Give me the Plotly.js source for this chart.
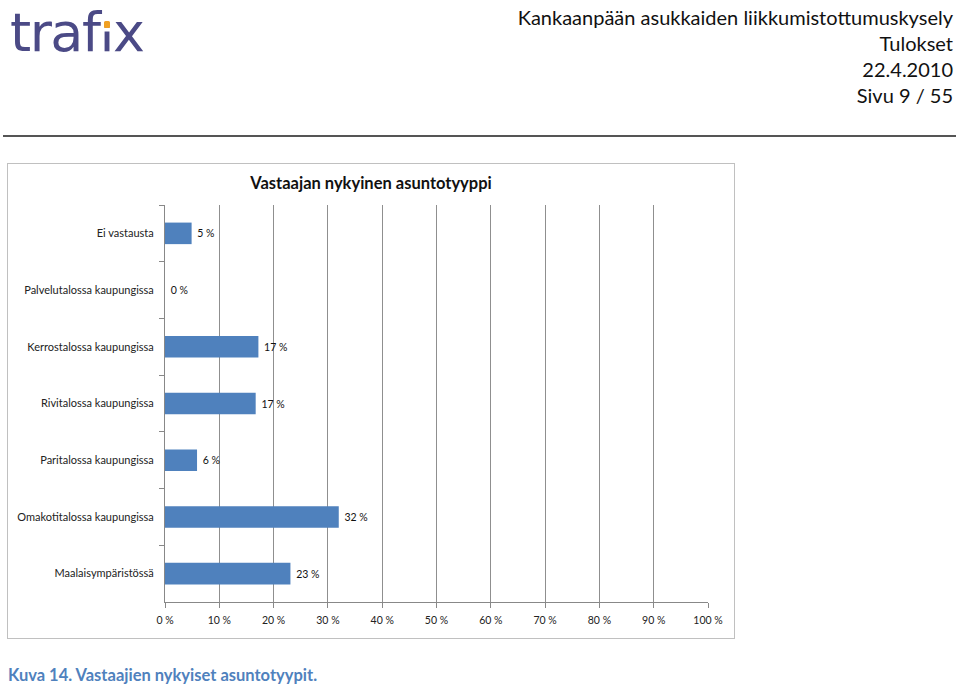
<!DOCTYPE html>
<html>
<head>
<meta charset="utf-8">
<script src="https://cdn.plot.ly/plotly-3.0.1.min.js"></script>
<style>
  html, body { margin: 0; padding: 0; background: #fff; width: 959px; height: 688px; overflow: hidden; }
  #logo { position: absolute; left: 0px; top: 0px; width: 170px; height: 75px; }
  #hdr { position: absolute; right: 6px; top: 4px; text-align: right; font-family: "Lato", sans-serif; font-size: 20px; line-height: 26px; color: #111; }
  #rule { position: absolute; left: 3px; top: 135px; width: 953px; height: 2px; background: #555; }
  #chart { position: absolute; left: 7px; top: 163px; width: 726px; height: 474px; border: 1px solid #c0c0c0; }
  #cap { position: absolute; left: 8px; top: 665px; font-family: "Lato", sans-serif; font-weight: bold; font-size: 16.5px; color: #4f81bd; }
</style>
</head>
<body>
<svg id="logo" xmlns="http://www.w3.org/2000/svg">
  <text id="logotext" x="10" y="51" font-family="DejaVu Sans, sans-serif" font-size="54" fill="#4b4a86" letter-spacing="-1.5">trafıx</text>
  <rect id="igap" x="0" y="28" width="8" height="3.5" fill="#ffffff"></rect>
  <rect id="idot" x="0" y="21" width="6" height="7" rx="1.5" fill="#f0a023"></rect>
</svg>
<div id="hdr">Kankaanpään asukkaiden liikkumistottumuskysely<br>Tulokset<br>22.4.2010<br>Sivu 9 / 55</div>
<div id="rule"></div>
<div id="chart"></div>
<div id="cap">Kuva 14. Vastaajien nykyiset asuntotyypit.</div>
<script>
// Data (top to bottom as drawn)
const categories = [
  "Ei vastausta",
  "Palvelutalossa kaupungissa",
  "Kerrostalossa kaupungissa",
  "Rivitalossa kaupungissa",
  "Paritalossa kaupungissa",
  "Omakotitalossa kaupungissa",
  "Maalaisympäristössä"
];
const shares = [4.9, 0, 17.2, 16.7, 5.9, 32.0, 23.1];
const shareLabels = ["5 %", "0 %", "17 %", "17 %", "6 %", "32 %", "23 %"];
const xTickVals = [0, 10, 20, 30, 40, 50, 60, 70, 80, 90, 100];
const xTickText = ["0 %", "10 %", "20 %", "30 %", "40 %", "50 %", "60 %", "70 %", "80 %", "90 %", "100 %"];
const chartTitle = "Vastaajan nykyinen asuntotyyppi";

// place orange accent on the logo's "i"
(function () {
  const t = document.getElementById("logotext");
  const r = document.getElementById("idot");
  const g = document.getElementById("igap");
  let cx = 112;
  try {
    const ext = t.getExtentOfChar(4);
    cx = ext.x + (ext.width + 1.5) / 2;
  } catch (e) {}
  r.setAttribute("x", (cx - 3).toFixed(1));
  g.setAttribute("x", (cx - 4).toFixed(1));
})();

const font = "Lato, sans-serif";

const trace = {
  type: "bar",
  orientation: "h",
  y: categories,
  x: shares,
  text: shareLabels.map(s => " " + s),
  textposition: "outside",
  cliponaxis: false,
  textfont: { family: font, size: 10.5, color: "#111" },
  marker: { color: "#4f81bd", line: { width: 0 } },
  hoverinfo: "none"
};

const layout = {
  width: 726,
  height: 474,
  margin: { l: 157, r: 26, t: 41, b: 36, pad: 0 },
  paper_bgcolor: "#fff",
  plot_bgcolor: "#fff",
  showlegend: false,
  bargap: 0.62,
  font: { family: font, size: 11, color: "#222" },
  title: {
    text: "<b>" + chartTitle + "</b>",
    x: 0.5, xref: "container", xanchor: "center",
    y: 0.96, yref: "container", yanchor: "middle",
    font: { family: font, size: 16.5, color: "#111" }
  },
  xaxis: {
    range: [0, 100],
    tickvals: xTickVals,
    ticktext: xTickText,
    ticks: "outside",
    ticklen: 5,
    tickcolor: "#888",
    showgrid: true,
    gridcolor: "#8f8f8f",
    gridwidth: 1,
    showline: true,
    linecolor: "#888",
    zeroline: false,
    ticklabelstandoff: 3,
    tickfont: { family: font, size: 10.5, color: "#222" },
    fixedrange: true
  },
  yaxis: {
    type: "category",
    autorange: "reversed",
    tickson: "boundaries",
    ticks: "outside",
    ticklen: 5,
    tickcolor: "#888",
    showgrid: false,
    showline: true,
    linecolor: "#888",
    ticklabelstandoff: 8,
    tickfont: { family: font, size: 11, color: "#222" },
    fixedrange: true
  }
};

Plotly.newPlot("chart", [trace], layout, { staticPlot: true, displayModeBar: false });
</script>
</body>
</html>
